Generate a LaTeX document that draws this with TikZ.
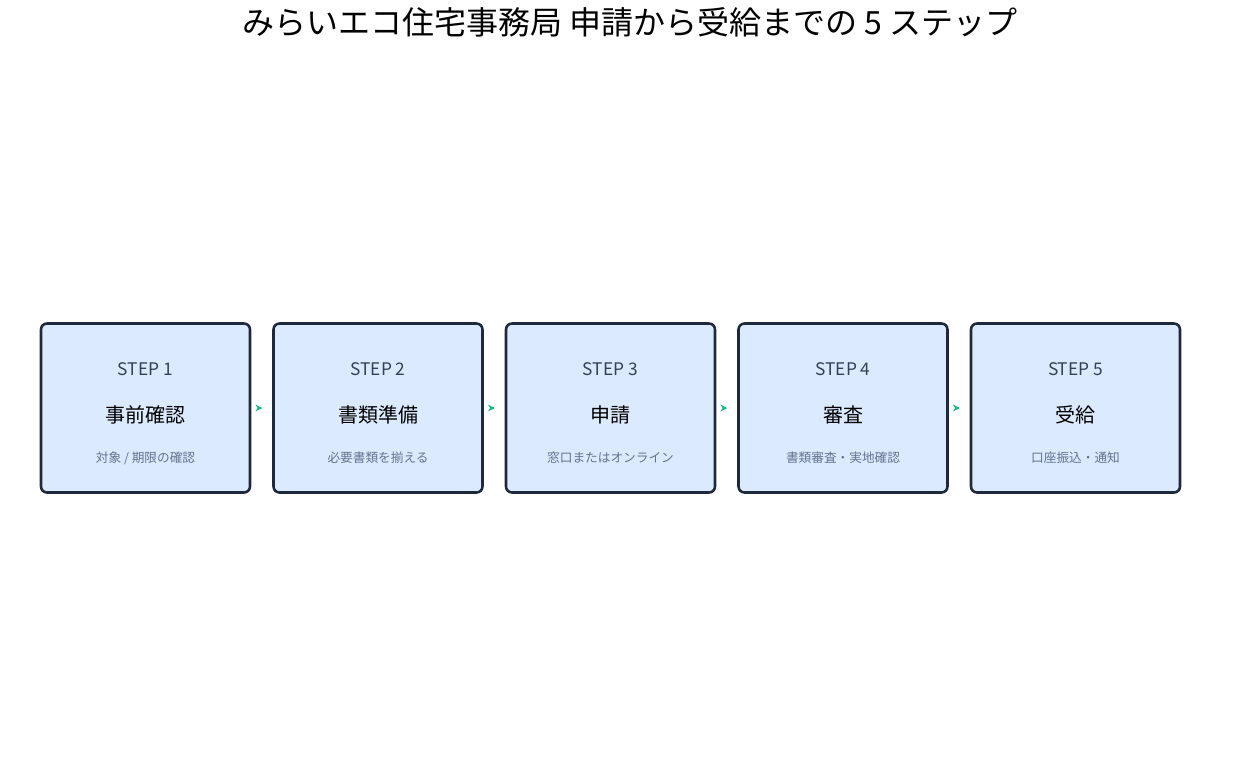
\documentclass[tikz,border=0pt]{standalone}
\usepackage{fontspec}
\setmainfont{Noto Sans CJK JP}
\usetikzlibrary{positioning,arrows.meta}
\definecolor{boxfill}{HTML}{DBEAFE}
\definecolor{boxline}{HTML}{1E293B}
\definecolor{steptext}{HTML}{334155}
\definecolor{subtext}{HTML}{64748B}
\definecolor{arrowgreen}{HTML}{10B981}
\tikzset{
  stepbox/.style={draw=boxline,fill=boxfill,line width=1.9pt,rounded corners=4.5pt,
    minimum width=156.75pt,minimum height=126.75pt},
  steplbl/.style={text=steptext,font=\fontsize{13}{15}\selectfont},
  titlelbl/.style={font=\fontsize{15}{18}\selectfont},
  sublbl/.style={text=subtext,font=\fontsize{9.5}{11}\selectfont},
  flow/.style={-{Stealth[length=5pt,width=5pt]},draw=arrowgreen,line width=2.2pt}
}
\begin{document}
\begin{tikzpicture}[x=0.75pt,y=-0.75pt]
\useasboundingbox (0,0) rectangle (1260,765);
\node[font=\fontsize{24}{28}\selectfont] (title) at (630,22) {みらいエコ住宅事務局 申請から受給までの 5 ステップ};
% boxes
\foreach \i/\x/\name/\sub in {1/145.5/事前確認/{対象 / 期限の確認},
  2/378/書類準備/必要書類を揃える,
  3/610.5/申請/窓口またはオンライン,
  4/843/審査/書類審査・実地確認,
  5/1075.5/受給/口座振込・通知}{
  \node[stepbox] (s\i) at (\x,408) {};
  \node[steplbl] (st\i) at (\x,369) {STEP \i};
  \node[titlelbl] (tt\i) at (\x,415) {\name};
  \node[sublbl] (sb\i) at (\x,458) {\sub};
}
% arrows
\foreach \a/\b in {1/2,2/3,3/4,4/5}
  \draw[flow] ([xshift=7.5pt]s\a.east) -- ([xshift=-7.5pt]s\b.west);
\end{tikzpicture}
\end{document}
